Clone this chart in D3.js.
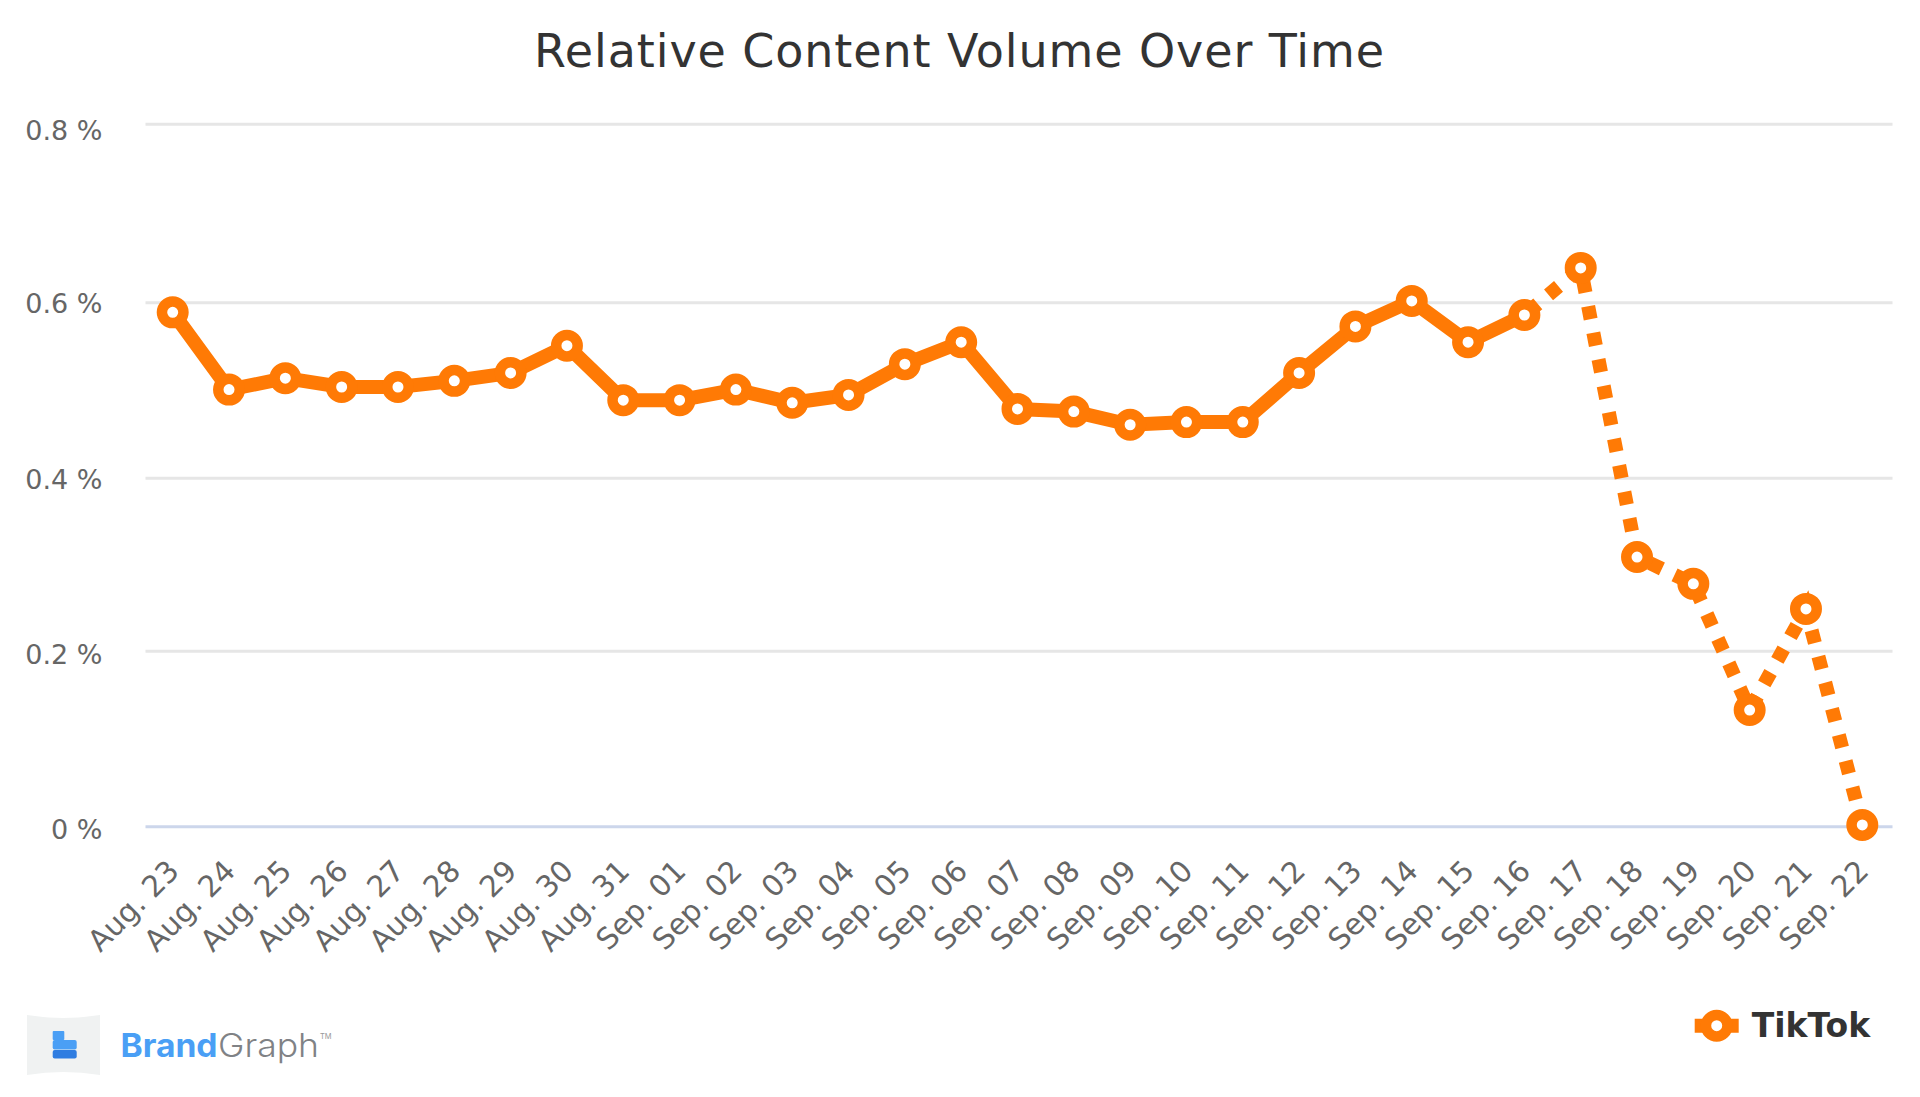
<!DOCTYPE html>
<html>
<head>
<meta charset="utf-8">
<script src="https://cdn.jsdelivr.net/npm/d3@7"></script>
<style>
  html, body { margin: 0; background: #fff; }
  svg { display: block; font-family: "DejaVu Sans", sans-serif; }
</style>
</head>
<body>
<div id="chart"></div>
<script>
const CHART_TITLE = "Relative Content Volume Over Time";
const SERIES_NAME = "TikTok";
const LAST_SOLID = "Sep. 16";

const DATES = [
    "Aug. 23", "Aug. 24", "Aug. 25", "Aug. 26", "Aug. 27", "Aug. 28", "Aug. 29", "Aug. 30", "Aug. 31",
    "Sep. 01", "Sep. 02", "Sep. 03", "Sep. 04", "Sep. 05", "Sep. 06", "Sep. 07", "Sep. 08", "Sep. 09",
    "Sep. 10", "Sep. 11", "Sep. 12", "Sep. 13", "Sep. 14", "Sep. 15", "Sep. 16", "Sep. 17", "Sep. 18",
    "Sep. 19", "Sep. 20", "Sep. 21", "Sep. 22",
];
const VOLUME = [
    0.589, 0.501, 0.514, 0.504, 0.504, 0.511, 0.520, 0.551, 0.489,
    0.489, 0.501, 0.486, 0.495, 0.530, 0.555, 0.479, 0.476, 0.461,
    0.464, 0.464, 0.520, 0.573, 0.602, 0.555, 0.586, 0.639, 0.309,
    0.278, 0.133, 0.249, 0.002,
];
const Y_TICKS = [0, 0.2, 0.4, 0.6, 0.8];

const ORANGE = "#ff7a05";
const W = 1920, H = 1097;
const GRID_X0 = 145.5, GRID_X1 = 1892.5;

/* ---------------------------------- */
const x = d3.scalePoint().domain(DATES).range([172.7, 1862.3]);
const y = d3.scaleLinear().domain(Y_TICKS).range([826.7, 651.3, 478.3, 302.7, 124.3]);
// tick labels do not sit at a constant distance from their grid lines
const yLabel = d3.scaleLinear().domain(Y_TICKS).range([839, 664, 488.5, 313, 140]);

const svg = d3.select("#chart").append("svg").attr("width", W).attr("height", H);

svg.append("text")
   .attr("x", 959.5)
   .attr("y", 67)
   .attr("text-anchor", "middle")
   .attr("font-size", 46)
   .attr("letter-spacing", 0.9)
   .attr("fill", "#333")
   .text(CHART_TITLE);

// grid + y labels
const yAxis = svg.append("g")
    .attr("transform", "translate(" + GRID_X0 + ",0)")
    .call(d3.axisLeft(y).tickValues(Y_TICKS).tickSize(-(GRID_X1 - GRID_X0)).tickPadding(0).offset(0)
            .tickFormat((d) => d + " %"));
yAxis.select(".domain").remove();
yAxis.selectAll("line")
     .attr("stroke", (d) => (d === 0 ? "#ccd6eb" : "#e6e6e6"))
     .attr("stroke-width", 3);
yAxis.selectAll("text")
     .attr("x", 102.5 - GRID_X0)
     .attr("dy", 0)
     .attr("y", (d) => yLabel(d) - y(d))
     .attr("font-size", 27)
     .attr("font-family", "DejaVu Sans")
     .attr("fill", "#666");

// x labels
const xAxis = svg.append("g")
    .attr("transform", "translate(0," + y(0) + ")")
    .call(d3.axisBottom(x).tickSize(0).offset(0));
xAxis.select(".domain").remove();
xAxis.selectAll("text")
     .attr("font-size", 29.5)
     .attr("font-family", "DejaVu Sans")
     .attr("fill", "#666")
     .attr("text-anchor", "end")
     .attr("dy", 0)
     .attr("y", 0)
     .attr("transform", "translate(8,46) rotate(-45)");

// series
const points = DATES.map((d, i) => ({date: d, value: VOLUME[i]}));
const splitAt = DATES.indexOf(LAST_SOLID);
const line = d3.line().x((d) => x(d.date)).y((d) => y(d.value));

svg.append("path")
   .datum(points.slice(0, splitAt + 1))
   .attr("d", line)
   .attr("fill", "none")
   .attr("stroke", ORANGE)
   .attr("stroke-width", 14);
svg.append("path")
   .datum(points.slice(splitAt))
   .attr("d", line)
   .attr("fill", "none")
   .attr("stroke", ORANGE)
   .attr("stroke-width", 14)
   .attr("stroke-dasharray", "13 14")
   .attr("stroke-dashoffset", -4.5);

svg.append("g")
   .selectAll("circle")
   .data(points)
   .enter()
   .append("circle")
   .attr("cx", (d) => x(d.date))
   .attr("cy", (d) => y(d.value))
   .attr("r", 10.75)
   .attr("fill", "#fff")
   .attr("stroke", ORANGE)
   .attr("stroke-width", 10.5);

// legend
const legend = svg.append("g").attr("transform", "translate(1716.7,1025.7)");
legend.append("line")
      .attr("x1", -22).attr("x2", 22)
      .attr("stroke", ORANGE)
      .attr("stroke-width", 14);
legend.append("circle")
      .attr("r", 10.75)
      .attr("fill", "#fff")
      .attr("stroke", ORANGE)
      .attr("stroke-width", 10.5);
legend.append("text")
      .attr("x", 35)
      .attr("y", 11)
      .attr("font-size", 33)
      .attr("font-weight", "bold")
      .attr("fill", "#333")
      .text(SERIES_NAME);

// BrandGraph logo
const logo = svg.append("g");
logo.append("path")
    .attr("d", "M27,1015 Q63,1021 100,1015 L100,1075 Q63,1069 27,1075 Z")
    .attr("fill", "#f0f2f2");
logo.append("rect").attr("x", 52.7).attr("y", 1031).attr("width", 11.6).attr("height", 9).attr("rx", 1).attr("fill", "#4a9ff5");
logo.append("rect").attr("x", 52.7).attr("y", 1040).attr("width", 24).attr("height", 9.5).attr("rx", 2).attr("fill", "#4a9ff5");
logo.append("rect").attr("x", 52.7).attr("y", 1050).attr("width", 24).attr("height", 8.5).attr("rx", 2).attr("fill", "#2f7de1");
const logoFont = "Inter, 'Open Sans', sans-serif";
logo.append("text")
    .attr("x", 120.5).attr("y", 1056.7)
    .attr("font-family", logoFont)
    .attr("font-size", 32)
    .attr("font-weight", "bold")
    .attr("fill", "#4a9ff5")
    .attr("textLength", 97)
    .attr("lengthAdjust", "spacingAndGlyphs")
    .text("Brand");
logo.append("text")
    .attr("x", 218).attr("y", 1056.7)
    .attr("font-family", logoFont)
    .attr("font-size", 32)
    .attr("font-weight", 300)
    .attr("fill", "#808285")
    .attr("textLength", 101)
    .attr("lengthAdjust", "spacingAndGlyphs")
    .text("Graph");
logo.append("text")
    .attr("x", 320)
    .attr("y", 1039)
    .attr("font-family", logoFont)
    .attr("font-size", 7.5)
    .attr("fill", "#999")
    .text("TM");
</script>
</body>
</html>
